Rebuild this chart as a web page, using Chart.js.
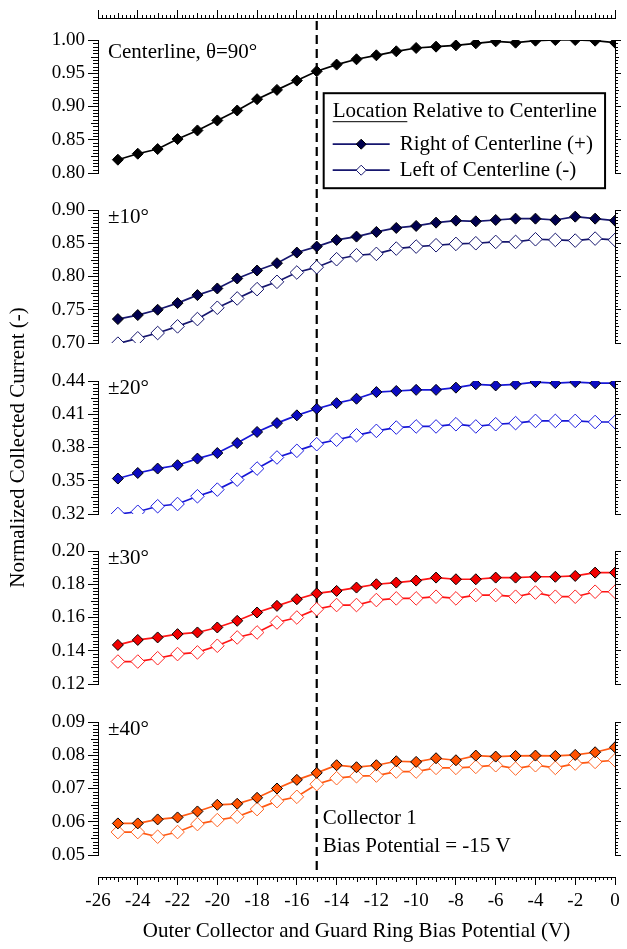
<!DOCTYPE html>
<html>
<head>
<meta charset="utf-8">
<script src="https://cdn.jsdelivr.net/npm/chart.js@4.4.1/dist/chart.umd.min.js"></script>
<style>
  html, body { margin: 0; padding: 0; background: #fff; }
  #wrap { width: 627px; height: 949px; }
</style>
</head>
<body>
<div id="wrap"><canvas id="plot" width="627" height="949"></canvas></div>
<script>
// ---------------- data ----------------
const biasV = [-25, -24, -23, -22, -21, -20, -19, -18, -17, -16, -15, -14, -13,
               -12, -11, -10, -9, -8, -7, -6, -5, -4, -3, -2, -1, 0];

const center = [0.820, 0.829, 0.836, 0.851, 0.864, 0.879, 0.894, 0.911, 0.925, 0.939, 0.953, 0.963, 0.971,
                0.977, 0.983, 0.988, 0.990, 0.992, 0.995, 0.998, 0.996, 0.999, 1.000, 1.000, 0.999, 0.996];

const right10 = [0.736, 0.742, 0.750, 0.760, 0.772, 0.782, 0.797, 0.809, 0.820, 0.836, 0.845, 0.855, 0.860,
                 0.867, 0.873, 0.876, 0.881, 0.884, 0.883, 0.885, 0.887, 0.887, 0.885, 0.890, 0.887, 0.884];
const left10 = [0.699, 0.707, 0.715, 0.725, 0.736, 0.753, 0.767, 0.781, 0.792, 0.806, 0.814, 0.826, 0.832,
                0.834, 0.842, 0.845, 0.847, 0.849, 0.850, 0.852, 0.852, 0.856, 0.855, 0.854, 0.857, 0.855];

const right20 = [0.352, 0.357, 0.361, 0.364, 0.370, 0.375, 0.384, 0.394, 0.402, 0.409, 0.415, 0.420, 0.424,
                 0.430, 0.431, 0.432, 0.432, 0.434, 0.437, 0.436, 0.437, 0.439, 0.438, 0.439, 0.438, 0.438];
const left20 = [0.320, 0.322, 0.327, 0.329, 0.336, 0.342, 0.351, 0.361, 0.371, 0.377, 0.383, 0.387, 0.391,
                0.395, 0.398, 0.399, 0.399, 0.401, 0.399, 0.401, 0.402, 0.404, 0.404, 0.404, 0.403, 0.403];

const right30 = [0.1435, 0.1465, 0.148, 0.150, 0.151, 0.154, 0.158, 0.163, 0.167, 0.171, 0.1745, 0.176, 0.178,
                 0.180, 0.181, 0.1822, 0.184, 0.183, 0.183, 0.184, 0.184, 0.1845, 0.1845, 0.185, 0.187, 0.187];
const left30 = [0.1335, 0.1335, 0.1355, 0.138, 0.139, 0.143, 0.148, 0.151, 0.157, 0.160, 0.165, 0.1675, 0.1675,
                0.1705, 0.1715, 0.1715, 0.1725, 0.1715, 0.1735, 0.1735, 0.1725, 0.175, 0.1725, 0.1725, 0.1755, 0.1755];

const right40 = [0.0595, 0.0595, 0.0607, 0.0613, 0.0631, 0.0651, 0.0654, 0.0672, 0.0700, 0.0726, 0.0747, 0.0770, 0.0764,
                 0.0770, 0.0782, 0.0780, 0.0791, 0.0785, 0.0799, 0.0796, 0.0798, 0.0799, 0.0798, 0.0801, 0.0809, 0.0824];
const left40 = [0.0569, 0.0569, 0.0555, 0.0569, 0.0593, 0.0605, 0.0615, 0.0638, 0.0662, 0.0675, 0.0713, 0.0731, 0.0737,
                0.0739, 0.0751, 0.0751, 0.0762, 0.0762, 0.0765, 0.0770, 0.0760, 0.0770, 0.0762, 0.0775, 0.0780, 0.0785];

// axis ranges / tick labels per panel (top to bottom)
const panelMin = [0.80, 0.70, 0.32, 0.12, 0.05];
const panelMax = [1.00, 0.90, 0.44, 0.20, 0.09];
const panelStep = [0.05, 0.05, 0.03, 0.02, 0.01];
const panelLabels = ['Centerline, \u03b8=90\u00b0', '\u00b110\u00b0', '\u00b120\u00b0', '\u00b130\u00b0', '\u00b140\u00b0'];
const xMin = -26, xMax = 0, xStep = 2;
const refBias = -15;

const legendTitle = 'Location Relative to Centerline';
const rightLabel = 'Right of Centerline (+)';
const leftLabel = 'Left of Centerline (-)';

// ---------------- styles ----------------
const FAMILY = 'Liberation Serif';
const FS_TICK = 19;
const FS_TEXT = 21;
Chart.defaults.font.family = FAMILY;
Chart.defaults.font.size = FS_TICK;
Chart.defaults.color = '#000';
const textFont = { family: FAMILY, size: FS_TEXT };

const panelColors = [
  { line: '#000000', fill: '#000000', open: '#000000' },
  { line: '#16166e', fill: '#00004e', open: '#16166e' },
  { line: '#1717d6', fill: '#0b0bc0', open: '#1d1de0' },
  { line: '#ff1414', fill: '#f20000', open: '#ff2222' },
  { line: '#ff5a14', fill: '#ff5200', open: '#ff6424' }
];

// vertical layout (px): top gap, panels and gaps between them, bottom gap
const PANEL_H = 133;
const gapsH = [22, 37, 38, 37, 38, 22];

const pts = arr => arr.map((v, i) => ({ x: biasV[i], y: v }));

function filledSet(label, arr, i) {
  const c = panelColors[i];
  return {
    label, data: pts(arr), yAxisID: 'y' + (i + 1), xAxisID: 'x',
    borderColor: c.line, borderWidth: 1.7, tension: 0,
    pointStyle: 'rectRot', pointRadius: 5.5, pointHoverRadius: 5.5,
    pointBackgroundColor: c.fill, pointBorderColor: '#000', pointBorderWidth: 1
  };
}
function openSet(label, arr, i) {
  const c = panelColors[i];
  return {
    label, data: pts(arr), yAxisID: 'y' + (i + 1), xAxisID: 'x',
    borderColor: c.line, borderWidth: 1.7, tension: 0,
    pointStyle: 'rectRot', pointRadius: 6.8, pointHoverRadius: 6.8,
    pointBackgroundColor: '#fff', pointBorderColor: c.open, pointBorderWidth: 1
  };
}

const datasets = [
  filledSet('Centerline', center, 0),
  filledSet(rightLabel, right10, 1), openSet(leftLabel, left10, 1),
  filledSet(rightLabel, right20, 2), openSet(leftLabel, left20, 2),
  filledSet(rightLabel, right30, 3), openSet(leftLabel, left30, 3),
  filledSet(rightLabel, right40, 4), openSet(leftLabel, left40, 4)
];

// ---------------- scales ----------------
// minor tick spec per axis: major step and which side the marks go
const minorSpec = { x: { step: xStep, side: 'bottom' }, xTop: { step: xStep, side: 'top' } };

const scales = {
  x: {
    type: 'linear', position: 'bottom', min: xMin, max: xMax,
    ticks: { stepSize: xStep, padding: 5, maxRotation: 0, autoSkip: false },
    grid: { drawOnChartArea: false, tickLength: 8, color: '#000' },
    border: { color: '#000', width: 1 },
    title: { display: true, text: 'Outer Collector and Guard Ring Bias Potential (V)', font: textFont, padding: { top: 0, bottom: 1 } },
    afterFit: s => { s.height = 68; }
  },
  xTop: {
    type: 'linear', position: 'top', min: xMin, max: xMax,
    ticks: { display: false, stepSize: xStep, autoSkip: false },
    grid: { drawOnChartArea: false, tickLength: 8, color: '#000' },
    border: { color: '#000', width: 1 },
    afterFit: s => { s.height = 8; }
  }
};

// stacked segments: gap, panel, gap, panel ... gap
const segs = [];
for (let i = 0; i < 5; i++) { segs.push({ gap: gapsH[i] }); segs.push({ panel: i }); }
segs.push({ gap: gapsH[5] });
const n = segs.length;

segs.forEach((sg, k) => {
  if (sg.panel === undefined) {
    scales['gl' + k] = { type: 'linear', display: false, position: 'left', stack: 'L', stackWeight: sg.gap, weight: n - k };
    scales['gr' + k] = { type: 'linear', display: false, position: 'right', stack: 'R', stackWeight: sg.gap, weight: k + 1 };
    return;
  }
  const i = sg.panel;
  minorSpec['y' + (i + 1)] = { step: panelStep[i], side: 'left' };
  minorSpec['r' + (i + 1)] = { step: panelStep[i], side: 'right' };
  scales['y' + (i + 1)] = {
    type: 'linear', position: 'left', stack: 'L', stackWeight: PANEL_H, weight: n - k,
    min: panelMin[i], max: panelMax[i],
    ticks: { stepSize: panelStep[i], padding: 3, autoSkip: false, callback: v => v.toFixed(2) },
    grid: { drawOnChartArea: false, tickLength: 10, color: '#000' },
    border: { color: '#000', width: 1 },
    title: i === 2
      ? { display: true, text: 'Normalized Collected Current (-)', font: textFont, padding: { top: 2, bottom: 0 } }
      : { display: false },
    afterFit: s => { s.width = 94; s.paddingTop = 0; s.paddingBottom = 0; }
  };
  scales['r' + (i + 1)] = {
    type: 'linear', position: 'right', stack: 'R', stackWeight: PANEL_H, weight: k + 1,
    min: panelMin[i], max: panelMax[i],
    ticks: { display: false, stepSize: panelStep[i], autoSkip: false },
    grid: { drawOnChartArea: false, tickLength: 6, color: '#000' },
    border: { color: '#000', width: 1 },
    afterFit: s => { s.width = 10; s.paddingTop = 0; s.paddingBottom = 0; }
  };
});

// ---------------- plugins ----------------
// minor ticks: 10 per major step, a longer one at the half step
const tickLens = { left: [5, 7], right: [3, 4], top: [3, 5], bottom: [3, 5] };
const minorTicks = {
  id: 'minorTicks',
  afterDraw(chart) {
    const ctx = chart.ctx;
    ctx.save();
    ctx.strokeStyle = '#000';
    ctx.lineWidth = 1;
    for (const id of Object.keys(minorSpec)) {
      const s = chart.scales[id];
      if (!s) continue;
      const side = minorSpec[id].side;
      const lens = tickLens[side];
      const lo = s.min, hi = s.max;
      const minor = minorSpec[id].step / 10;
      const cnt = Math.round((hi - lo) / minor);
      ctx.beginPath();
      for (let j = 1; j < cnt; j++) {
        if (j % 10 === 0) continue;
        const len = lens[j % 5 === 0 ? 1 : 0];
        const p = Math.round(s.getPixelForValue(lo + j * minor)) + 0.5;
        if (side === 'left') { const e = Math.round(s.right); ctx.moveTo(e, p); ctx.lineTo(e - len, p); }
        else if (side === 'right') { const e = Math.round(s.left); ctx.moveTo(e, p); ctx.lineTo(e + len, p); }
        else if (side === 'top') { const e = Math.round(s.bottom); ctx.moveTo(p, e); ctx.lineTo(p, e - len); }
        else { const e = Math.round(s.top); ctx.moveTo(p, e); ctx.lineTo(p, e + len); }
      }
      ctx.stroke();
    }
    ctx.restore();
  }
};

// dashed reference line at the collector bias
const refLine = {
  id: 'refLine',
  beforeDatasetsDraw(chart) {
    const { ctx, chartArea } = chart;
    const x = chart.scales.x.getPixelForValue(refBias);
    ctx.save();
    ctx.strokeStyle = '#000';
    ctx.lineWidth = 2.2;
    ctx.setLineDash([9, 5]);
    ctx.beginPath();
    ctx.moveTo(x, chartArea.top + 3);
    ctx.lineTo(x, chartArea.bottom - 4);
    ctx.stroke();
    ctx.restore();
  }
};

function marker(ctx, x, y, r, fill, edge) {
  ctx.fillStyle = fill;
  ctx.strokeStyle = edge;
  ctx.lineWidth = 1;
  ctx.beginPath();
  ctx.moveTo(x, y - r); ctx.lineTo(x + r, y); ctx.lineTo(x, y + r); ctx.lineTo(x - r, y);
  ctx.closePath();
  ctx.fill();
  ctx.stroke();
}

// panel labels, collector note and legend box
const annotations = {
  id: 'annotations',
  afterDatasetsDraw(chart) {
    const { ctx, chartArea } = chart;
    const xs = chart.scales.x;
    ctx.save();
    ctx.font = FS_TEXT + 'px "' + FAMILY + '"';
    ctx.fillStyle = '#000';
    ctx.textBaseline = 'middle';
    ctx.textAlign = 'left';

    panelLabels.forEach((t, i) => {
      const s = chart.scales['y' + (i + 1)];
      ctx.fillText(t, chartArea.left + 10, s.top + (i === 0 ? 12 : 7));
    });

    const xr = xs.getPixelForValue(refBias) + 6;
    const y5 = chart.scales.y5;
    ctx.fillText('Collector 1', xr, y5.top + 96);
    ctx.fillText('Bias Potential = -15 V', xr, y5.top + 124);

    // legend
    const l = xs.getPixelForValue(-14.65), r = xs.getPixelForValue(-0.5);
    const t = chart.scales.y1.getPixelForValue(0.92), h = 95;
    ctx.fillStyle = '#fff';
    ctx.fillRect(l, t, r - l, h);
    ctx.strokeStyle = '#000';
    ctx.lineWidth = 2;
    ctx.strokeRect(l, t, r - l, h);

    ctx.fillStyle = '#000';
    ctx.fillText(legendTitle, l + 9, t + 18);
    const uw = ctx.measureText('Location').width;
    ctx.lineWidth = 1;
    ctx.beginPath();
    ctx.moveTo(l + 9, t + 28.5); ctx.lineTo(l + 9 + uw, t + 28.5);
    ctx.stroke();

    const items = [chart.data.datasets[1], chart.data.datasets[2]];
    items.forEach((ds, j) => {
      const y = t + 51 + j * 26;
      ctx.strokeStyle = ds.borderColor;
      ctx.lineWidth = 1.7;
      ctx.beginPath();
      ctx.moveTo(l + 9, y); ctx.lineTo(l + 66, y);
      ctx.stroke();
      marker(ctx, l + 37.5, y, 5, ds.pointBackgroundColor, ds.pointBorderColor);
      ctx.fillStyle = '#000';
      ctx.fillText(ds.label, l + 76, y);
    });
    ctx.restore();
  }
};

// ---------------- chart ----------------
new Chart(document.getElementById('plot'), {
  type: 'line',
  data: { datasets },
  options: {
    responsive: false,
    animation: false,
    devicePixelRatio: 1,
    layout: { padding: { left: 4, right: 2, top: 10, bottom: 4 } },
    scales,
    plugins: {
      legend: { display: false },
      tooltip: { enabled: false }
    }
  },
  plugins: [refLine, annotations, minorTicks]
});
</script>
</body>
</html>
